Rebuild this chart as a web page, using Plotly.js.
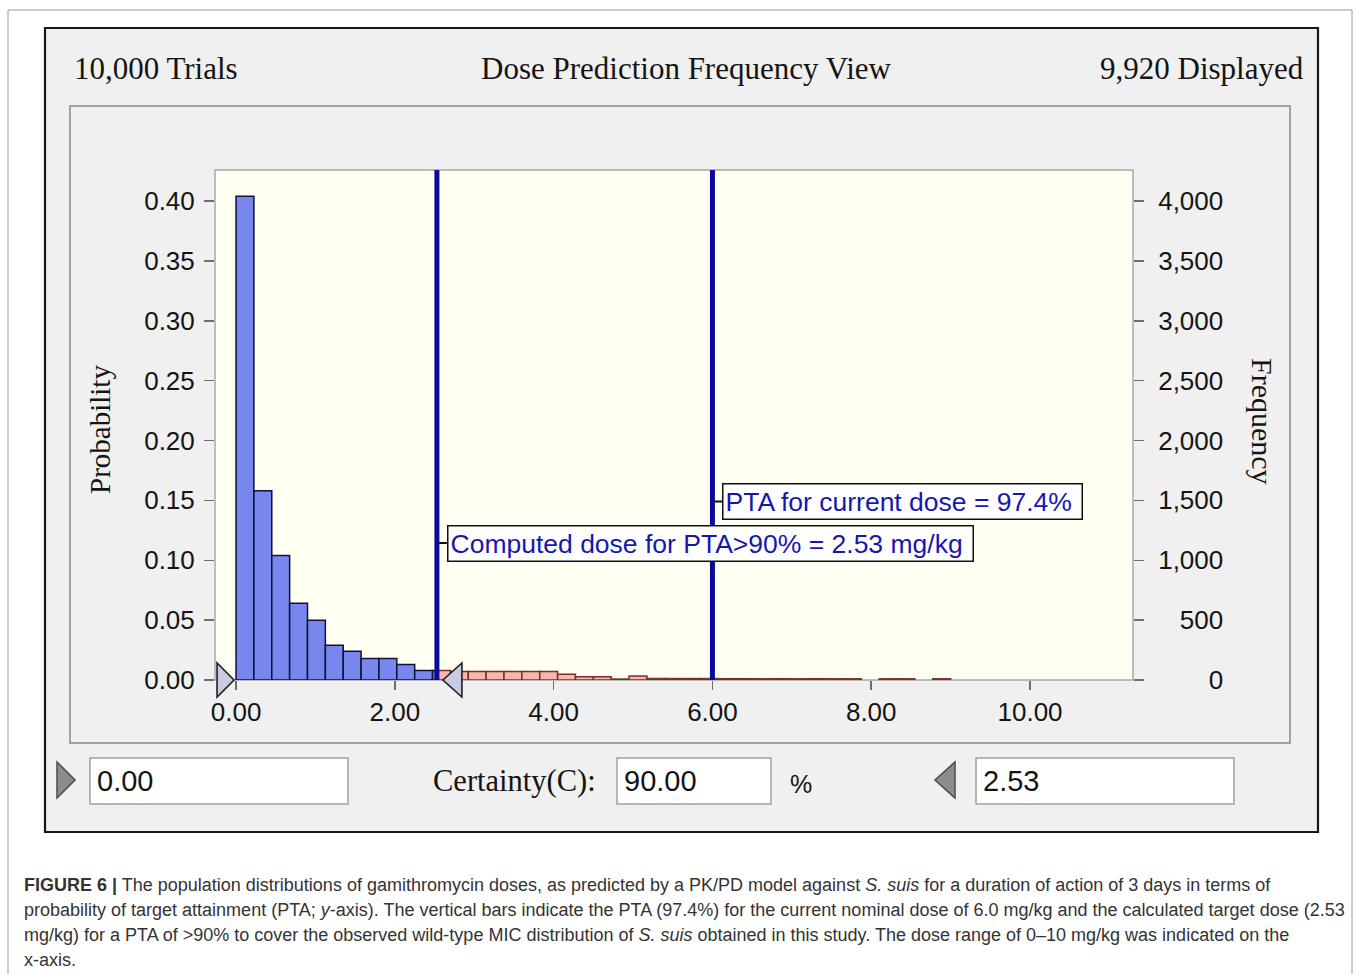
<!DOCTYPE html>
<html>
<head>
<meta charset="utf-8">
<script src="https://cdn.plot.ly/plotly-3.0.1.min.js"></script>
<style>
html,body{margin:0;padding:0;background:#ffffff;}
#chart{width:1357px;height:974px;}
</style>
</head>
<body>
<div id="chart"></div>
<script>
// ---------------- data ----------------
const trials = 10000;
const displayed = 9920;
const certaintyPct = 90.00;
const lowerBound = 0.00;          // left grab handle
const upperBound = 2.53;          // computed dose for PTA > 90 %
const currentDose = 6.0;          // current nominal dose
const ptaCurrent = 97.4;          // PTA for current dose (%)

const binWidth = 0.225;
const binStarts = [
  0.000, 0.225, 0.450, 0.675, 0.900, 1.125, 1.350, 1.575, 1.800, 2.025,
  2.250, 2.475, 2.700, 2.925, 3.150, 3.375, 3.600, 3.825, 4.050, 4.275,
  4.500, 4.725, 4.950, 5.175, 5.400, 5.625, 5.850, 6.075, 6.300, 6.525,
  6.750, 6.975, 7.200, 7.425, 7.650, 7.875, 8.100, 8.325, 8.550, 8.775
];
const probabilities = [
  0.404, 0.158, 0.104, 0.064, 0.050, 0.029, 0.024, 0.018, 0.018, 0.013,
  0.008, 0.008, 0.007, 0.007, 0.007, 0.007, 0.007, 0.007, 0.0047, 0.0028,
  0.0028, 0.0008, 0.0033, 0.0013, 0.0012, 0.0012, 0.0012, 0.0011, 0.0011, 0.0010,
  0.0011, 0.0010, 0.0011, 0.0010, 0.0010, 0.0000, 0.0010, 0.0010, 0.0000, 0.0010
];

const xTicks = [0, 2, 4, 6, 8, 10];
const probTicks = [0, 0.05, 0.10, 0.15, 0.20, 0.25, 0.30, 0.35, 0.40];
const freqTicks = [0, 500, 1000, 1500, 2000, 2500, 3000, 3500, 4000];

// ---------------- split bins into in-range (blue) / out-of-range (red) ----------------
const inside = {x: [], y: [], w: []};
const outside = {x: [], y: [], w: []};
function pushPiece(store, a, b, h) { store.x.push((a + b) / 2); store.w.push(b - a); store.y.push(h); }
binStarts.forEach((s, i) => {
  const e = s + binWidth, h = probabilities[i];
  if (h <= 0) return;
  if (e <= upperBound) pushPiece(inside, s, e, h);
  else if (s >= upperBound) pushPiece(outside, s, e, h);
  else { pushPiece(inside, s, upperBound, h); pushPiece(outside, upperBound, e, h); }
});

// ---------------- layout helpers (pixel -> paper) ----------------
const W = 1357, H = 974, L = 215, R = 1133, T = 170, B = 680;
const px = x => (x - L) / (R - L);
const py = y => (B - y) / (B - T);

const xRange = [-0.265, 11.297];
const yRange = [0, 0.4259];

const fmtFreq = v => v.toLocaleString('en-US');
const longest = fmtFreq(freqTicks[freqTicks.length - 1]);
const freqText = freqTicks.map(v => {
  const s = fmtFreq(v);
  let pad = '';
  for (let k = 0; k < longest.length - s.length; k++) pad += (longest[k] === ',' ? '\u2008' : '\u2007');
  return pad + s;
});

const barLine = 1.5;
const traces = [
  {type: 'bar', x: inside.x, y: inside.y, width: inside.w, base: 0,
   marker: {color: '#7887ee', line: {color: '#10103a', width: barLine}}, hoverinfo: 'skip'},
  {type: 'bar', x: outside.x, y: outside.y, width: outside.w, base: 0,
   marker: {color: '#f8b6aa', line: {color: '#7a2e2e', width: barLine}}, hoverinfo: 'skip'},
  {type: 'scatter', x: [], y: [], yaxis: 'y2', hoverinfo: 'skip', showlegend: false}
];

const rect = (x0, y0, x1, y1, fill, line, lw, layer) => ({
  type: 'rect', xref: 'paper', yref: 'paper', layer: layer || 'below',
  x0: px(x0), x1: px(x1), y0: py(y1), y1: py(y0),
  fillcolor: fill, line: {color: line, width: lw}
});
const tri = (pts, fill, line) => ({
  type: 'path', xref: 'paper', yref: 'paper', layer: 'below',
  path: 'M' + pts.map(p => px(p[0]) + ',' + py(p[1])).join(' L') + ' Z',
  fillcolor: fill, line: {color: line, width: 1.5}
});

const shapes = [
  rect(8, 10, 1352, 990, 'rgba(0,0,0,0)', '#9a9a9a', 1),
  rect(45, 28, 1318, 832, '#f0f0f0', '#161616', 2.2),
  rect(70, 106, 1290, 743, '#f0f0f0', '#a2a2a2', 2),
  rect(L, T, R, B, '#fffff2', '#a8a8a8', 1.5),
  rect(90, 758, 348, 804, '#ffffff', '#a0a0a0', 1.5),
  rect(617, 758, 771, 804, '#ffffff', '#a0a0a0', 1.5),
  rect(976, 758, 1234, 804, '#ffffff', '#a0a0a0', 1.5),
  tri([[57, 762], [57, 798], [75, 780]], '#8c8c8c', '#4a4a4a'),
  tri([[955, 762], [955, 798], [935, 780]], '#8c8c8c', '#4a4a4a'),
  // vertical marker lines
  {type: 'line', xref: 'x', yref: 'paper', layer: 'above', x0: upperBound, x1: upperBound, y0: 0, y1: 1,
   line: {color: '#0a0a9c', width: 5}},
  {type: 'line', xref: 'x', yref: 'paper', layer: 'above', x0: currentDose, x1: currentDose, y0: 0, y1: 1,
   line: {color: '#0a0a9c', width: 5}},
  // grab handles on the axis
  {type: 'path', xref: 'x', yref: 'paper', layer: 'above', xsizemode: 'pixel', ysizemode: 'pixel',
   xanchor: lowerBound, yanchor: 0, path: 'M-2,0 L-19,17 L-19,-17 Z',
   fillcolor: '#c9cbe2', line: {color: '#1e1e1e', width: 1.6}},
  {type: 'path', xref: 'x', yref: 'paper', layer: 'above', xsizemode: 'pixel', ysizemode: 'pixel',
   xanchor: upperBound, yanchor: 0, path: 'M6,0 L25,17 L25,-17 Z',
   fillcolor: '#c9cbe2', line: {color: '#1e1e1e', width: 1.6}}
];

const serif = 'Liberation Serif, Times New Roman, serif';
const sans = 'Liberation Sans, Arial, sans-serif';
const ink = '#141414';
const txt = (text, x, y, xanchor, font, extra) => Object.assign({
  text: text, xref: 'paper', yref: 'paper', x: px(x), y: py(y), xanchor: xanchor, yanchor: 'middle',
  showarrow: false, font: font
}, extra || {});

const captionFont = {family: sans, size: 18, color: '#333333'};
const annotations = [
  txt(fmtFreq(trials) + ' Trials', 72, 68, 'left', {family: serif, size: 31, color: ink}),
  txt('Dose Prediction Frequency View', 686, 68, 'center', {family: serif, size: 31, color: ink}),
  txt(fmtFreq(displayed) + ' Displayed', 1306, 68, 'right', {family: serif, size: 31, color: ink}),
  txt('Probability', 100, 430, 'center', {family: serif, size: 29, color: ink}, {textangle: -90}),
  txt('Frequency', 1263, 421, 'center', {family: serif, size: 30, color: ink}, {textangle: 90}),
  // callouts
  {text: 'Computed dose for PTA&gt;90% = ' + upperBound.toFixed(2) + ' mg/kg&nbsp;', xref: 'x', yref: 'paper',
   x: upperBound, y: py(543), ax: 10, ay: 0, showarrow: true, arrowhead: 0, arrowwidth: 2, arrowcolor: '#111',
   standoff: 2, xanchor: 'left', yanchor: 'middle', bgcolor: '#ffffff', bordercolor: '#111111', borderwidth: 1.5,
   borderpad: 2, font: {family: sans, size: 26.5, color: '#1717b0'}},
  {text: 'PTA for current dose = ' + ptaCurrent.toFixed(1) + '%&nbsp;', xref: 'x', yref: 'paper',
   x: currentDose, y: py(501.5), ax: 10, ay: 0, showarrow: true, arrowhead: 0, arrowwidth: 2, arrowcolor: '#111',
   standoff: 2, xanchor: 'left', yanchor: 'middle', bgcolor: '#ffffff', bordercolor: '#111111', borderwidth: 1.5,
   borderpad: 2, font: {family: sans, size: 26.5, color: '#1717b0'}},
  // control row
  txt(lowerBound.toFixed(2), 95, 781, 'left', {family: sans, size: 29, color: ink}),
  txt('Certainty(C):', 598, 781, 'right', {family: serif, size: 30.5, color: ink}),
  txt(certaintyPct.toFixed(2), 622, 781, 'left', {family: sans, size: 29, color: ink}),
  txt('%', 788, 784, 'left', {family: sans, size: 25, color: ink}),
  txt(upperBound.toFixed(2), 981, 781, 'left', {family: sans, size: 29, color: ink}),
  // caption
  txt('<b>FIGURE 6 |</b> The population distributions of gamithromycin doses, as predicted by a PK/PD model against <i>S. suis</i> for a duration of action of 3 days in terms of', 22, 885, 'left', captionFont),
  txt('probability of target attainment (PTA; <i>y</i>-axis). The vertical bars indicate the PTA (97.4%) for the current nominal dose of 6.0 mg/kg and the calculated target dose (2.53', 22, 910, 'left', captionFont),
  txt('mg/kg) for a PTA of &gt;90% to cover the observed wild-type MIC distribution of <i>S. suis</i> obtained in this study. The dose range of 0–10 mg/kg was indicated on the', 22, 935, 'left', captionFont),
  txt('x-axis.', 22, 960, 'left', captionFont)
];

const tickFont = {family: sans, size: 26, color: ink};
const layout = {
  width: W, height: H,
  margin: {l: L, r: W - R, t: T, b: H - B, pad: 0},
  paper_bgcolor: '#ffffff', plot_bgcolor: 'rgba(0,0,0,0)',
  showlegend: false, barmode: 'overlay', bargap: 0,
  xaxis: {range: xRange, tickvals: xTicks, tickformat: '.2f', ticks: 'outside', ticklen: 9, tickwidth: 1.5,
          tickcolor: '#6e6e6e', showgrid: false, zeroline: false, showline: false, tickfont: tickFont, fixedrange: true},
  yaxis: {range: yRange, tickvals: probTicks, tickformat: '.2f', ticks: 'outside', ticklen: 10, tickwidth: 1.5,
          ticklabelstandoff: 4,
          tickcolor: '#6e6e6e', showgrid: false, zeroline: false, showline: false, tickfont: tickFont, fixedrange: true},
  yaxis2: {range: [yRange[0] * trials, yRange[1] * trials], overlaying: 'y', side: 'right',
           tickvals: freqTicks, ticktext: freqText, ticks: 'outside', ticklen: 10, tickwidth: 1.5,
           ticklabelstandoff: 9,
           tickcolor: '#6e6e6e', showgrid: false, zeroline: false, showline: false, tickfont: tickFont, fixedrange: true},
  shapes: shapes,
  annotations: annotations
};

Plotly.newPlot('chart', traces, layout, {displayModeBar: false, staticPlot: true});
</script>
</body>
</html>
